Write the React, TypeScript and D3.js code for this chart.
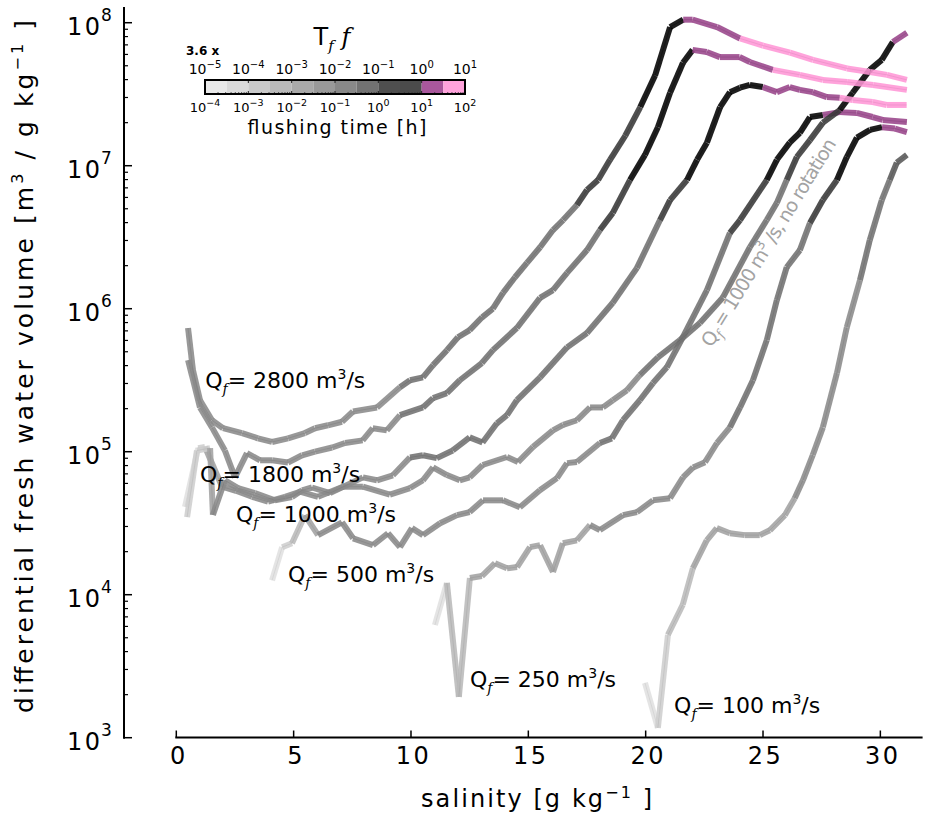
import React from "react";
import * as d3 from "d3";

// ---------- data ----------
// salinity [g/kg], differential fresh water volume [m3/(g/kg)], flushing-time class (colour bin 0..11) per segment
const sal2800 = [0.50,0.71,1.01,1.52,1.99,2.80,3.48,4.08,4.76,5.48,5.91,6.46,7.06,7.53,8.55,9.53,9.96,10.51,10.94,11.53,12.0,12.5,13.03,13.49,13.92,14.43,14.94,15.5,16.05,16.48,17.07,17.5,17.97,18.48,19.13,19.77,20.4,21.04,21.6,22.0,23.04,24.02,25.0,26.15,27.13,28.58,29.56,30.28,31.13];
const vol2800 = [7.33e5,3.72e5,2.29e5,1.66e5,1.46e5,1.35e5,1.24e5,1.17e5,1.24e5,1.35e5,1.46e5,1.53e5,1.62e5,1.91e5,2.04e5,2.82e5,3.16e5,3.31e5,4.03e5,5.13e5,6.31e5,7.08e5,8.71e5,1.0e6,1.29e6,1.66e6,2.09e6,2.69e6,3.55e6,4.17e6,5.31e6,6.76e6,7.94e6,1.10e7,1.62e7,2.57e7,4.27e7,9.33e7,1.05e8,1.05e8,9.33e7,7.76e7,6.92e7,6.17e7,5.50e7,4.79e7,4.52e7,4.32e7,3.98e7];
const tf2800 = [4,4,4,4,4,4,4,4,4,4,4,4,4,4,4,5,5,5,5,5,5,5,5,5,5,5,5,5,5,5,7,7,7,7,7,9,9,9,10,10,10,11,11,11,11,11,11,11,11];

const sal1800 = [0.50,1.01,1.52,2.07,2.50,3.01,3.57,4.08,4.76,5.36,5.91,6.64,7.19,7.94,8.37,8.97,9.53,10.51,10.94,11.53,12.08,13.02,13.49,14.51,15.5,16.05,16.65,17.5,18.05,18.6,19.33,19.97,20.52,21.04,21.59,22.0,22.6,23.16,24.0,24.44,25.42,26.57,27.55,28.58,29.69,31.13];
const vol1800 = [4.37e5,2.04e5,1.48e5,1.02e5,6.61e4,9.77e4,8.71e4,8.71e4,8.41e4,9.44e4,1.0e5,1.07e5,1.15e5,1.20e5,1.46e5,1.41e5,1.80e5,2.04e5,2.37e5,2.57e5,3.16e5,4.17e5,5.13e5,7.33e5,1.19e6,1.35e6,1.78e6,2.57e6,3.55e6,4.68e6,7.94e6,1.19e7,1.86e7,3.24e7,5.25e7,6.46e7,6.24e7,5.75e7,5.75e7,5.31e7,4.68e7,4.32e7,3.98e7,3.85e7,3.67e7,3.39e7];
const tf1800 = [4,4,4,4,4,4,4,4,4,4,4,4,4,4,4,4,5,5,5,5,5,5,5,5,5,5,5,5,7,7,9,9,9,9,9,10,10,10,10,10,11,11,11,11,11,11];

const sal1000 = [0.46,0.88,1.44,1.56,2.07,2.63,3.35,4.2,4.93,5.36,5.78,6.55,7.95,8.55,9.23,9.96,10.51,11.1,11.78,12.5,13.05,13.66,14.09,14.51,15.5,16.65,17.5,18.6,19.63,20.61,21.04,21.76,22.19,22.61,23.17,23.59,24.02,24.44,24.99,25.59,26.14,26.57,27.12,27.72,28.27,28.82,29.67,30.27,31.12];
const vol1000 = [3.49e4,1.02e5,1.06e5,3.61e4,6.31e4,5.56e4,5.13e4,4.57e4,4.82e4,5.37e4,5.62e4,5.13e4,6.61e4,6.31e4,6.84e4,9.12e4,9.44e4,9.02e4,1.02e5,1.26e5,1.16e5,1.58e5,1.80e5,2.29e5,3.31e5,5.37e5,6.76e5,1.10e6,1.93e6,4.17e6,5.75e6,7.94e6,1.10e7,1.45e7,2.57e7,3.27e7,3.51e7,3.67e7,3.55e7,3.27e7,3.55e7,3.39e7,3.27e7,3.02e7,2.99e7,2.88e7,2.79e7,2.66e7,2.66e7];
const tf1000 = [1,1,3,4,4,4,4,4,4,4,4,4,4,4,4,5,5,5,5,5,5,5,5,5,5,5,5,5,5,7,7,9,9,9,9,9,9,9,10,10,10,10,10,10,11,11,11,11,11];

const salNoRot = [0.37,0.93,1.22,1.95,2.54,3.23,3.91,4.63,5.27,6.04,7.1,7.95,9.1,9.96,10.51,10.94,11.53,12.08,12.5,13.05,14.09,14.56,15.2,16.05,16.48,17.07,17.63,18.18,18.6,19.2,19.75,20.52,21.46,22.31,23.29,24.44,25.16,25.59,26.01,26.44,27.0,27.55,28.27,28.82,29.55,30.06,30.53,31.13];
const volNoRot = [4.11e4,1.06e5,1.08e5,5.69e4,5.33e4,4.84e4,4.47e4,4.84e4,5.25e4,4.84e4,5.69e4,5.69e4,5.01e4,5.57e4,6.31e4,7.76e4,6.87e4,6.31e4,6.61e4,8.07e4,9.18e4,8.47e4,1.08e5,1.41e5,1.54e5,1.66e5,2.04e5,2.04e5,2.29e5,2.69e5,3.43e5,4.57e5,6.03e5,7.94e5,1.20e6,2.69e6,4.17e6,5.50e6,7.94e6,1.15e7,1.51e7,2.0e7,2.45e7,3.24e7,4.68e7,5.50e7,7.33e7,8.51e7];
const tfNoRot = [0,1,3,4,4,4,4,4,4,4,4,4,4,4,4,4,4,4,4,4,4,4,4,4,4,4,4,4,4,4,5,5,5,5,5,5,5,5,7,7,7,7,9,9,9,9,10,10];

const sal500 = [4.08,4.51,4.93,5.48,6.04,7.06,7.53,8.38,9.02,9.53,10.04,10.51,11.24,11.96,12.5,13.07,13.92,14.64,15.49,16.22,16.65,17.07,18.05,18.56,19.03,19.75,20.31,20.9,21.58,22.61,23.59,24.02,25.16,25.59,26.14,26.57,27.0,27.55,28.27,28.99,29.67,30.1,31.13];
const vol500 = [1.26e4,2.15e4,2.29e4,3.60e4,2.61e4,3.21e4,2.48e4,2.22e4,2.69e4,2.15e4,2.92e4,2.61e4,3.16e4,3.60e4,3.78e4,4.57e4,4.57e4,4.09e4,5.37e4,6.53e4,8.32e4,8.47e4,1.15e5,1.24e5,1.66e5,2.29e5,3.02e5,3.89e5,6.31e5,1.35e6,3.39e6,4.17e6,7.94e6,1.10e7,1.45e7,1.70e7,2.19e7,2.26e7,2.37e7,2.34e7,2.19e7,2.09e7,2.02e7];
const tf500 = [0,1,2,3,4,4,4,4,4,4,4,4,4,4,4,4,4,4,4,4,4,4,5,5,5,5,5,5,5,5,7,7,9,9,9,9,9,10,10,10,10,10,10];

const sal250 = [11.02,11.53,12.04,12.51,13.02,13.58,14.09,14.52,15.07,15.5,16.05,16.47,17.07,17.63,18.05,19.03,19.63,20.31,21.04,21.59,22.02,22.53,23.04,23.59,24.02,24.57,25.16,25.59,26.01,26.57,27.0,27.55,28.15,28.57,29.0,29.56,30.07,30.62,31.13];
const vol250 = [6.14e3,1.21e4,1.93e3,1.31e4,1.35e4,1.66e4,1.53e4,1.56e4,2.15e4,2.22e4,1.44e4,2.29e4,2.40e4,3.07e4,2.83e4,3.60e4,3.78e4,4.57e4,4.73e4,6.61e4,7.76e4,8.45e4,1.15e5,1.48e5,2.04e5,3.16e5,6.03e5,1.15e6,1.95e6,2.57e6,3.98e6,5.75e6,7.94e6,1.15e7,1.57e7,1.78e7,1.86e7,1.82e7,1.72e7];
const tf250 = [0,2,2,3,3,3,3,3,3,3,3,3,3,4,4,4,4,4,4,4,4,4,4,5,5,5,5,5,5,5,7,7,9,9,9,9,10,10,10];

const sal100 = [19.97,20.52,20.95,21.58,22.01,22.6,23.03,23.59,24.22,24.86,25.29,25.93,26.35,26.7,27.12,27.55,28.15,28.57,29.13,29.55,30.06,30.4,30.7,31.13];
const vol100 = [2.42e3,1.17e3,5.25e3,8.51e3,1.53e4,2.40e4,2.92e4,2.69e4,2.61e4,2.61e4,2.82e4,3.60e4,4.73e4,6.31e4,9.48e4,1.48e5,3.55e5,7.41e5,1.58e6,3.02e6,5.75e6,7.94e6,1.05e7,1.19e7];
const tf100 = [0,1,2,2,3,3,3,3,3,3,3,3,4,4,4,4,4,4,5,5,5,6,6,6];

// curve labels: Qf value, anchor salinity and volume
const labelQ = ["2800", "1800", "1000", "500", "250", "100"];
const labelSal = [1.23, 1.01, 2.54, 4.76, 12.51, 21.21];
const labelVol = [2.79e5, 6.14e4, 3.22e4, 1.22e4, 2.26e3, 1.49e3];
const noRotLabelSal = 22.8;
const noRotLabelVol = 5.3e5;

const xTicks = [0, 5, 10, 15, 20, 25, 30];
const yDecades = [3, 4, 5, 6, 7, 8];
const cbLowerExp = [-4, -3, -2, -1, 0, 1, 2];
const cbUpperExp = [-5, -4, -3, -2, -1, 0, 1];

const lineColors = ["#e0e0e0","#cecece","#b9b9b9","#a2a2a2","#8a8a8a","#717171","#585858","#383838","#141414","#000000","#98448a","#ff96d6"];
const barColors = ["#e9e9e9","#dadada","#cacaca","#b9b9b9","#a9a9a9","#999999","#888888","#727272","#4f4f4f","#4b4b4b","#a9579c","#ffa3dc"];

const curves = [
  { s: sal100, v: vol100, t: tf100 },
  { s: sal250, v: vol250, t: tf250 },
  { s: sal500, v: vol500, t: tf500 },
  { s: salNoRot, v: volNoRot, t: tfNoRot },
  { s: sal1000, v: vol1000, t: tf1000 },
  { s: sal1800, v: vol1800, t: tf1800 },
  { s: sal2800, v: vol2800, t: tf2800 },
];

const FONT = "DejaVu Sans";

export default function App() {
  const x = d3.scaleLinear().domain([0, 31.8]).range([176.3, 922.6]);
  const y = d3.scaleLog().domain([1e3, 1.29e8]).range([737.7, 6.9]);
  const yAxisX = 124;
  const xAxisY = 737.5;

  const segs: any[] = [];
  curves.forEach((c, ci) => {
    for (let i = 0; i < c.s.length - 1; i++) {
      const col = lineColors[c.t[i]];
      const x1 = x(c.s[i]), y1 = y(c.v[i]), x2 = x(c.s[i + 1]), y2 = y(c.v[i + 1]);
      const dk = d3.color(col)!.darker(0.5).formatHex();
      segs.push(
        <g key={`s${ci}-${i}`}>
          <line x1={x1} y1={y1} x2={x2} y2={y2} stroke={col} strokeWidth={6} strokeOpacity={0.88} />
          <line x1={x1} y1={y1} x2={x2} y2={y2} stroke={dk} strokeWidth={0.8} strokeOpacity={0.45} />
        </g>
      );
    }
  });

  const minor = y.ticks().filter((t) => {
    const m = t / Math.pow(10, Math.floor(Math.log10(t) + 1e-9));
    return Math.abs(m - 1) > 1e-6;
  });

  // colorbar
  const cb = d3.scaleLinear().domain([-4, 2]).range([205, 465]);
  const cbTop = 80, cbBot = 94;
  const cbBins = d3.range(12).map((i) => [-4 + 0.5 * i, -4 + 0.5 * (i + 1)]);
  const cbMinor: number[] = [];
  for (let d = -4; d < 2; d++) for (let m = 2; m <= 9; m++) cbMinor.push(d + Math.log10(m));

  const sup = (e: number) => (e < 0 ? "\u2212" + Math.abs(e) : String(e));

  return (
    <svg width={925} height={818} style={{ position: "absolute", left: 0, top: 0, background: "#fff" }} fontFamily={FONT}>
      <rect x={0} y={0} width={925} height={818} fill="#fff" />
      {/* curves */}
      {segs}

      {/* y axis */}
      <line x1={yAxisX} x2={yAxisX} y1={y(1.29e8)} y2={y(1e3) + 1} stroke="#000" strokeWidth={2} />
      {yDecades.map((d) => (
        <g key={`yd${d}`}>
          <line x1={yAxisX} x2={yAxisX + 8} y1={y(Math.pow(10, d))} y2={y(Math.pow(10, d))} stroke="#000" strokeWidth={1.5} />
          <text x={67} y={y(Math.pow(10, d)) + 12} fontSize={24}>
            1<tspan dx={2.5}>0</tspan>
            <tspan dx={1} dy={-14} fontSize={17}>{d}</tspan>
          </text>
        </g>
      ))}
      {minor.map((t, i) => (
        <line key={`ym${i}`} x1={yAxisX} x2={yAxisX + 4} y1={y(t)} y2={y(t)} stroke="#000" strokeWidth={1.2} />
      ))}

      {/* x axis */}
      <line x1={x(0) - 1} x2={x(31.8)} y1={xAxisY} y2={xAxisY} stroke="#000" strokeWidth={2} />
      {xTicks.map((t) => (
        <g key={`xt${t}`}>
          <line x1={x(t)} x2={x(t)} y1={xAxisY} y2={xAxisY - 7} stroke="#000" strokeWidth={1.5} />
          <text x={x(t) + 2.5} y={764} fontSize={24} letterSpacing={2.5} textAnchor="middle">{t}</text>
        </g>
      ))}

      {/* axis titles */}
      <text x={421} y={807} fontSize={24} textLength={231} lengthAdjust="spacing">
        salinity [g kg<tspan dy={-9} fontSize={16}>{"\u22121"}</tspan><tspan dy={9}> ]</tspan>
      </text>
      <text transform="translate(33,713) rotate(-90)" fontSize={25} textLength={693} lengthAdjust="spacing">
        differential fresh water volume [m<tspan dy={-10} fontSize={16}>3</tspan><tspan dy={10}> / g kg</tspan>
        <tspan dy={-10} fontSize={16}>{"\u22121"}</tspan><tspan dy={10}> ]</tspan>
      </text>

      {/* curve labels */}
      {labelQ.map((q, i) => (
        <text key={`lq${i}`} x={x(labelSal[i])} y={y(labelVol[i])} fontSize={22}>
          Q<tspan fontFamily="DejaVu Serif" fontStyle="italic" fontSize={14} dy={6}>f</tspan>
          <tspan dy={-6}>{`= ${q} m`}</tspan>
          <tspan fontSize={14} dy={-9}>3</tspan>
          <tspan dy={9}>/s</tspan>
        </text>
      ))}
      <text
        transform={`translate(${x(noRotLabelSal)},${y(noRotLabelVol)}) rotate(-58.5)`}
        fontSize={19}
        fill="#a3a3a3"
        textLength={240}
        lengthAdjust="spacing"
      >
        Q<tspan fontFamily="DejaVu Serif" fontStyle="italic" fontSize={13} dy={5}>f</tspan>
        <tspan dy={-5}> = 1000 m</tspan>
        <tspan fontSize={13} dy={-8}>3</tspan>
        <tspan dy={8}> /s, no rotation</tspan>
      </text>

      {/* colorbar */}
      <text x={332} y={45} fontSize={24} textAnchor="middle">
        T<tspan fontFamily="DejaVu Serif" fontStyle="italic" fontSize={15} dy={6}>f</tspan>
        <tspan dy={-6}> </tspan>
        <tspan fontFamily="DejaVu Serif" fontStyle="italic">f</tspan>
      </text>
      <text x={186} y={55} fontSize={12} fontWeight="bold">3.6 x</text>
      {cbBins.map((b, i) => (
        <rect key={`cb${i}`} x={cb(b[0])} y={cbTop} width={cb(b[1]) - cb(b[0])} height={cbBot - cbTop} fill={barColors[i]} />
      ))}
      {cbMinor.map((m, i) => (
        <line key={`cbm${i}`} x1={cb(m)} x2={cb(m)} y1={cbBot} y2={cbBot - 2} stroke="#333" strokeWidth={0.8} />
      ))}
      {cbLowerExp.map((e) => (
        <g key={`cbt${e}`}>
          <line x1={cb(e)} x2={cb(e)} y1={cbTop} y2={cbTop + 3} stroke="#222" strokeWidth={1} />
          <line x1={cb(e)} x2={cb(e)} y1={cbBot} y2={cbBot - 3} stroke="#222" strokeWidth={1} />
        </g>
      ))}
      <rect x={cb(-4)} y={cbTop} width={cb(2) - cb(-4)} height={cbBot - cbTop} fill="none" stroke="#000" strokeWidth={2} />
      {cbUpperExp.map((e, i) => (
        <text key={`cu${i}`} x={cb(cbLowerExp[i])} y={74} fontSize={14} textAnchor="middle">
          10<tspan dy={-6} fontSize={10}>{sup(e)}</tspan>
        </text>
      ))}
      {cbLowerExp.map((e, i) => (
        <text key={`cl${i}`} x={cb(e)} y={111.5} fontSize={13} textAnchor="middle">
          10<tspan dy={-6} fontSize={9.5}>{sup(e)}</tspan>
        </text>
      ))}
      <text x={337} y={134} fontSize={19} textAnchor="middle" textLength={179} lengthAdjust="spacing">flushing time [h]</text>
    </svg>
  );
}
